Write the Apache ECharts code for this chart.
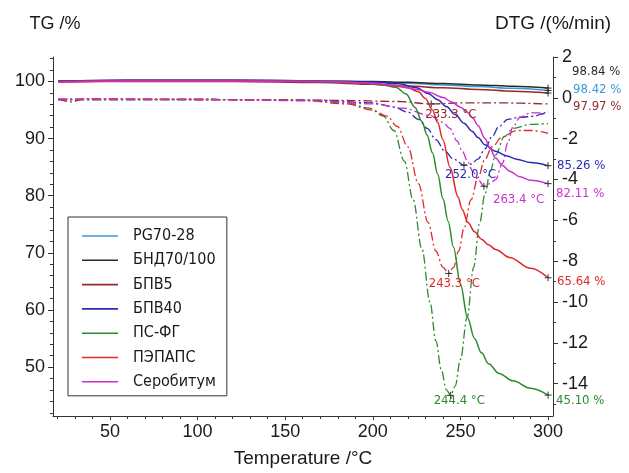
<!DOCTYPE html>
<html>
<head>
<meta charset="utf-8">
<script src="https://cdn.jsdelivr.net/npm/echarts@6/dist/echarts.min.js"></script>
<style>
  html, body { margin: 0; padding: 0; background: #fff; }
  #chart { width: 629px; height: 473px; }
</style>
</head>
<body>
<div id="chart"></div>
<script>
// Thermogravimetric curves (TG, %) and their derivatives (DTG, %/min) vs temperature (°C)

// --- TG data: [temperature, mass %] ---
const tgPG = [[20.5,100.0],[60,100.1],[120,100.1],[170,100.0],[200,99.9],[220,99.7],[240,99.4],[260,99.1],[280,98.8],[300,98.42]];
const tgBND = [[20.5,100.1],[60,100.2],[120,100.2],[170,100.1],[200,100.0],[220,99.85],[240,99.65],[260,99.4],[280,99.15],[300,98.84]];
const tgBPV5 = [[20.5,99.9],[60,100.0],[120,100.0],[170,99.8],[200,99.5],[220,99.2],[240,98.9],[260,98.6],[280,98.3],[300,97.97]];
const tgBPV40 = [[20.5,100.1],[60,100.2],[120,100.2],[170,100.1],[200,99.9],[215,99.6],[225,98.9],[231.5,97.9],[237,96.8],[242,95.6],[247,94.2],[252,92.7],[256.6,91.3],[260,90.2],[264,88.9],[270,87.8],[276,87.0],[282,86.4],[290,85.8],[300,85.26]];
const tgPSFG = [[20.5,100.0],[60,100.1],[120,100.1],[170,100.0],[195,99.7],[205,99.4],[213,99.0],[219,97.8],[224,95.5],[228,93.0],[231,90.6],[234,87.5],[237,83.8],[240,79.5],[243,75.5],[246,71.0],[250,64.5],[254,58.7],[258,55.0],[262,52.5],[266,50.6],[272,48.9],[280,47.6],[290,46.3],[300,45.10]];
const tgPEPAPS = [[20.5,100.0],[60,100.1],[120,100.1],[170,100.0],[200,99.6],[212,99.2],[220,98.9],[226,98.2],[230,97.0],[234,95.0],[237,92.8],[240,89.8],[244,85.0],[248.6,79.8],[251,77.6],[254.3,75.3],[258,73.7],[262,72.4],[266,71.4],[270,70.6],[278,69.2],[290,67.3],[300,65.64]];
const tgSerobitum = [[20.5,99.9],[60,100.1],[120,100.1],[170,100.0],[200,99.7],[215,99.2],[225,98.6],[232,98.1],[240,97.2],[245,96.4],[250,95.5],[254,94.6],[257,93.6],[260,92.3],[264,90.0],[267,88.2],[270,86.6],[274,85.3],[278,84.3],[284,83.3],[290,82.7],[300,82.11]];

// --- DTG data: [temperature, %/min] ---
const dtgBPV5 = [[20.5,-0.05],[28,-0.2],[35,-0.05],[100,-0.08],[180,-0.12],[215,-0.18],[233.3,-0.3],[250,-0.25],[275,-0.25],[300,-0.3]];
const dtgBPV40 = [[20.5,-0.08],[100,-0.08],[170,-0.12],[200,-0.25],[212,-0.45],[220,-0.7],[226,-1.05],[231,-1.5],[236,-2.05],[241,-2.6],[246,-3.0],[252.0,-3.3],[256,-3.25],[260,-3.0],[264,-2.5],[268,-1.9],[272,-1.4],[277,-1.05],[284,-0.95],[292,-0.9],[297,-0.78],[300,-0.7]];
const dtgPSFG = [[20.5,-0.08],[100,-0.08],[160,-0.12],[185,-0.25],[198,-0.5],[206,-0.9],[212,-1.6],[218,-3.1],[223,-5.0],[228,-7.4],[232.6,-10.0],[236,-11.9],[239,-13.3],[242,-14.3],[244.4,-14.57],[247,-14.1],[250,-12.8],[253.8,-10.75],[257.5,-8.3],[261,-6.1],[264,-4.7],[267,-3.6],[270,-2.8],[275,-1.9],[280,-1.5],[290,-1.3],[300,-1.26]];
const dtgPEPAPS = [[20.5,-0.08],[100,-0.08],[160,-0.12],[185,-0.3],[200,-0.6],[208,-0.9],[214,-1.4],[220,-2.4],[226,-4.2],[231.5,-6.1],[236,-7.5],[240,-8.3],[243.3,-8.6],[246,-8.3],[249,-7.5],[252,-6.4],[256,-5.0],[260,-3.9],[264,-3.0],[268,-2.4],[274,-1.9],[282,-1.6],[291,-1.6],[300,-1.74]];
const dtgSerobitum = [[20.5,-0.06],[100,-0.08],[170,-0.15],[200,-0.3],[217,-0.5],[232,-0.85],[240,-1.2],[244,-1.5],[248,-2.1],[251,-2.6],[254,-3.1],[257,-3.6],[260,-4.0],[263.4,-4.33],[267,-4.2],[270,-4.0],[274,-3.2],[277,-2.2],[280,-1.4],[284,-0.95],[290,-0.74],[300,-0.72]];

// --- axis ticks ---
const temperatureTicks = [50, 100, 150, 200, 250, 300];
const temperatureMinorTicks = [20, 30, 40, 60, 70, 80, 90, 110, 120, 130, 140, 160, 170, 180, 190, 210, 220, 230, 240, 260, 270, 280, 290];
const tgTicks = [50, 60, 70, 80, 90, 100];
const tgMinorTicks = [42, 44, 46, 48, 52, 54, 56, 58, 62, 64, 66, 68, 72, 74, 76, 78, 82, 84, 86, 88, 92, 94, 96, 98, 102, 104];
const dtgTicks = [-14, -12, -10, -8, -6, -4, -2, 0, 2];
const dtgMinorTicks = [-15, -13, -11, -9, -7, -5, -3, -1, 1];

// --- sample names and colours ---
const sampleNames = ['PG70-28', 'БНД70/100', 'БПВ5', 'БПВ40', 'ПС-ФГ', 'ПЭПАПС', 'Серобитум'];
const sampleColors = ['#3a9ad9', '#2a2a2a', '#962a2a', '#2b2bb5', '#2d8a2d', '#e0282a', '#cc30cc'];

const tgCurves = [tgPG, tgBND, tgBPV5, tgBPV40, tgPSFG, tgPEPAPS, tgSerobitum];
const dtgCurves = [null, null, dtgBPV5, dtgBPV40, dtgPSFG, dtgPEPAPS, dtgSerobitum];

// label placement around the marked points (pixels)
const endLabelOffsets = [[25, -1], [24, -16], [25, 14], [9, 0], [8, 6], [9, 4], [8, 10]];
const peakLabelOffsets = [null, null, [-6, 11], [-19, 9], [-17, 5], [-20, 10], [9, 13]];

const SANS = '"Liberation Sans", Arial, Helvetica, sans-serif';
const NARROW = '"Liberation Sans Narrow", "Noto Sans Condensed", "DejaVu Sans Condensed", "Arial Narrow", "Liberation Sans", sans-serif';
const AXIS_COLOR = '#333';
const TEXT_COLOR = '#1a1a1a';
const PLUS = 'path://M0,5L10,5M5,0L5,10';

const X_MIN = 17.5, X_MAX = 302.8;
const TG_MIN = 41.44, TG_MAX = 104.28;
const DTG_MIN = -15.58, DTG_MAX = 2;

function plusMark(point, value, offset, color, formatter) {
  return {
    symbol: PLUS,
    symbolSize: 7,
    silent: true,
    animation: false,
    itemStyle: { color: 'transparent', borderColor: '#333', borderWidth: 1 },
    label: {
      show: true,
      position: 'inside',
      align: 'left',
      verticalAlign: 'middle',
      offset: offset,
      color: color,
      fontFamily: NARROW,
      fontSize: 13,
      formatter: formatter
    },
    data: [{ coord: point, value: value }]
  };
}

const series = [];

// derivative curves (dash-dot) on the right axis
dtgCurves.forEach((curve, i) => {
  if (!curve) return;
  const peak = curve.reduce((a, b) => (b[1] < a[1] ? b : a));
  series.push({
    name: sampleNames[i] + ' DTG',
    type: 'line',
    xAxisIndex: 0,
    yAxisIndex: 1,
    data: curve,
    showSymbol: false,
    smooth: 0.35,
    smoothMonotone: 'x',
    color: sampleColors[i],
    lineStyle: { width: 1.3, type: [9, 3, 2, 3], color: sampleColors[i] },
    markPoint: plusMark(peak, peak[0], peakLabelOffsets[i], sampleColors[i],
      p => p.value.toFixed(1) + ' °C')
  });
});

// mass-loss curves (solid) on the left axis
tgCurves.forEach((curve, i) => {
  const last = curve[curve.length - 1];
  series.push({
    name: sampleNames[i],
    type: 'line',
    xAxisIndex: 0,
    yAxisIndex: 0,
    data: curve,
    showSymbol: false,
    smooth: 0.35,
    smoothMonotone: 'x',
    color: sampleColors[i],
    lineStyle: { width: 1.5, color: sampleColors[i] },
    markPoint: plusMark(last, last[1], endLabelOffsets[i], sampleColors[i],
      p => p.value.toFixed(2) + ' %')
  });
});

const tickLabel = { fontFamily: SANS, fontSize: 18, color: TEXT_COLOR };

const option = {
  animation: false,
  backgroundColor: '#fff',
  grid: { left: 53, right: 76, top: 57, bottom: 49, containLabel: false },
  legend: {
    data: sampleNames,
    orient: 'vertical',
    left: 68,
    top: 217,
    icon: 'rect',
    itemWidth: 36,
    itemHeight: 1.6,
    itemGap: 4.3,
    padding: [9, 11, 4, 14],
    borderColor: '#333',
    borderWidth: 1,
    selectedMode: false,
    textStyle: { fontFamily: NARROW, fontSize: 16, color: TEXT_COLOR, lineHeight: 20, padding: [0, 0, 0, 10] }
  },
  xAxis: [
    {
      type: 'value', min: X_MIN, max: X_MAX, position: 'bottom',
      name: 'Temperature /°C', nameLocation: 'middle', nameGap: 33,
      nameTextStyle: { fontFamily: SANS, fontSize: 19, color: TEXT_COLOR },
      axisLine: { show: true, onZero: false, lineStyle: { color: AXIS_COLOR, width: 1 } },
      axisTick: { show: true, customValues: temperatureTicks, length: 4, lineStyle: { color: AXIS_COLOR } },
      axisLabel: Object.assign({ customValues: temperatureTicks, margin: 7 }, tickLabel),
      splitLine: { show: false }
    },
    {
      type: 'value', min: X_MIN, max: X_MAX, position: 'bottom',
      axisLine: { show: false, onZero: false },
      axisTick: { show: true, customValues: temperatureMinorTicks, length: 3, lineStyle: { color: AXIS_COLOR } },
      axisLabel: { show: false },
      splitLine: { show: false }
    }
  ],
  yAxis: [
    {
      type: 'value', min: TG_MIN, max: TG_MAX, position: 'left',
      name: 'TG /%', nameLocation: 'end', nameGap: 24,
      nameTextStyle: { fontFamily: SANS, fontSize: 18, color: TEXT_COLOR, align: 'center', padding: [0, 0, 0, 4] },
      axisLine: { show: true, onZero: false, lineStyle: { color: AXIS_COLOR, width: 1 } },
      axisTick: { show: true, customValues: tgTicks, length: 5, lineStyle: { color: AXIS_COLOR } },
      axisLabel: Object.assign({ customValues: tgTicks, margin: 8 }, tickLabel),
      splitLine: { show: false }
    },
    {
      type: 'value', min: DTG_MIN, max: DTG_MAX, position: 'right',
      name: 'DTG /(%/min)', nameLocation: 'end', nameGap: 24,
      nameTextStyle: { fontFamily: SANS, fontSize: 19, color: TEXT_COLOR, align: 'center' },
      axisLine: { show: true, onZero: false, lineStyle: { color: AXIS_COLOR, width: 1 } },
      axisTick: { show: true, customValues: dtgTicks, length: 5, lineStyle: { color: AXIS_COLOR } },
      axisLabel: Object.assign({ customValues: dtgTicks, margin: 9 }, tickLabel),
      splitLine: { show: false }
    },
    {
      type: 'value', min: TG_MIN, max: TG_MAX, position: 'left',
      axisLine: { show: false, onZero: false },
      axisTick: { show: true, customValues: tgMinorTicks, length: 3, lineStyle: { color: AXIS_COLOR } },
      axisLabel: { show: false },
      splitLine: { show: false }
    },
    {
      type: 'value', min: DTG_MIN, max: DTG_MAX, position: 'right',
      axisLine: { show: false, onZero: false },
      axisTick: { show: true, customValues: dtgMinorTicks, length: 3, lineStyle: { color: AXIS_COLOR } },
      axisLabel: { show: false },
      splitLine: { show: false }
    }
  ],
  series: series
};

const chart = echarts.init(document.getElementById('chart'), null, { renderer: 'canvas' });
chart.setOption(option);
</script>
</body>
</html>
